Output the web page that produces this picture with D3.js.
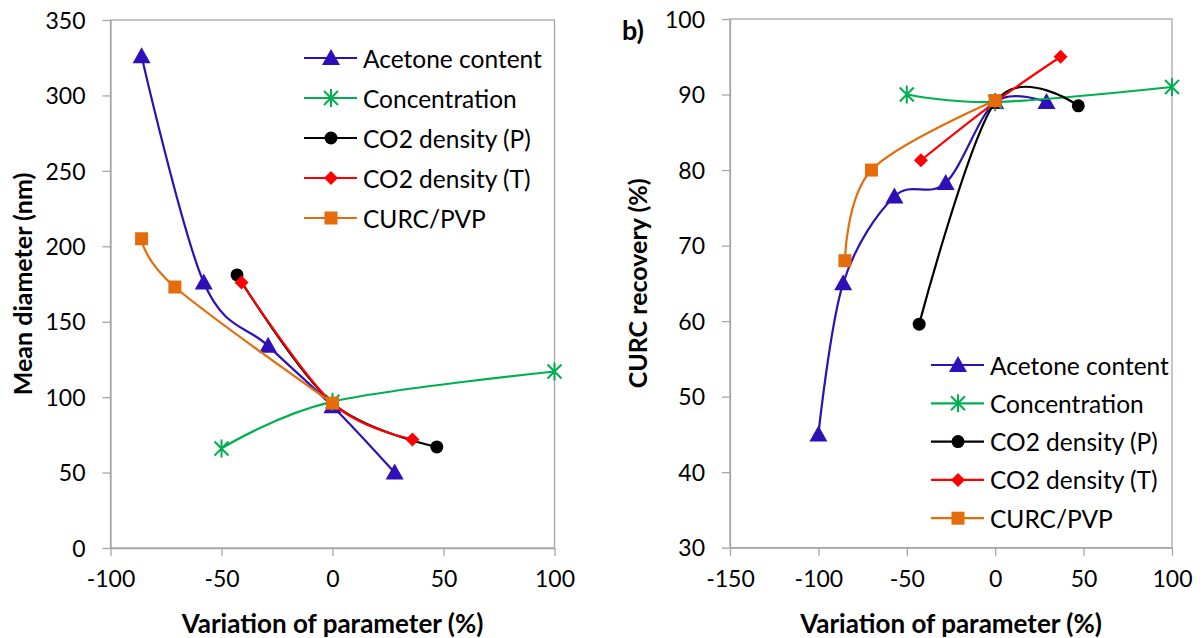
<!DOCTYPE html>
<html>
<head>
<meta charset="utf-8">
<script src="https://cdn.jsdelivr.net/npm/d3@7"></script>
<style>
  body { margin: 0; background: #fff; }
  svg text { font-family: Lato, "Open Sans", sans-serif; fill: #000; }
</style>
</head>
<body>
<svg id="canvas" width="1203" height="638"></svg>
<script>
// Series names (legend order = drawing order)
const seriesNames = ["Acetone content", "Concentration", "CO2 density (P)", "CO2 density (T)", "CURC/PVP"];
const seriesColors = ["#2e10b8", "#00b050", "#000000", "#ff0000", "#e46c0a"];
const seriesMarkers = ["triangle", "star", "circle", "diamond", "square"];

// Panel a) mean diameter (nm)
const acetoneX_a = [-86, -58, -29, 0, 28];
const acetoneY_a = [326, 176, 134, 94, 50];
const concX_a = [-50, 0, 100];
const concY_a = [66, 97, 117];
const co2pX_a = [-43, 0, 47];
const co2pY_a = [181, 96, 67];
const co2tX_a = [-41, 0, 36];
const co2tY_a = [176, 96, 72];
const curcX_a = [-86, -71, 0];
const curcY_a = [205, 173, 96];

// Panel b) CURC recovery (%)
const acetoneX_b = [-100, -86, -57, -28, 0, 29];
const acetoneY_b = [45, 65, 76.5, 78.3, 89, 89];
const concX_b = [-50, 0, 100];
const concY_b = [90, 89, 91];
const co2pX_b = [-43, 0, 47];
const co2pY_b = [59.6, 89, 88.5];
const co2tX_b = [-42, 0, 37];
const co2tY_b = [81.3, 89, 95];
const curcX_b = [-85, -70, 0];
const curcY_b = [68, 80, 89.2];

// Tick values
const xTicks_a = [-100, -50, 0, 50, 100];
const yTicks_a = [0, 50, 100, 150, 200, 250, 300, 350];
const xTicks_b = [-150, -100, -50, 0, 50, 100];
const yTicks_b = [30, 40, 50, 60, 70, 80, 90, 100];

const svg = d3.select("#canvas");

function zip(xs, ys) {
    return xs.map((x, i) => ({ x: x, y: ys[i] }));
}

// Draw one marker at (cx, cy)
function drawMarker(g, tipo, color, cx, cy) {
    const m = g.append("g").attr("transform", `translate(${cx},${cy})`);
    if (tipo === "triangle") {
        m.append("path").attr("d", "M0,-9L9,7L-9,7Z").attr("fill", color);
    } else if (tipo === "star") {
        m.append("path")
            .attr("d", "M-7,-7L7,7M-7,7L7,-7M0,-9L0,9")
            .attr("stroke", color).attr("stroke-width", 2).attr("fill", "none");
    } else if (tipo === "circle") {
        m.append("circle").attr("r", 6.5).attr("fill", color);
    } else if (tipo === "diamond") {
        m.append("path").attr("d", "M0,-7L7,0L0,7L-7,0Z").attr("fill", color);
    } else if (tipo === "square") {
        m.append("rect").attr("x", -6.5).attr("y", -6.5).attr("width", 13).attr("height", 13).attr("fill", color);
    }
}

function drawPanel(p) {
    const x = d3.scaleLinear().domain(p.xDomain).range([p.left, p.right]);
    const y = d3.scaleLinear().domain(p.yDomain).range([p.bottom, p.top]);
    const g = svg.append("g");

    // plot area box
    g.append("rect")
        .attr("x", p.left).attr("y", p.top)
        .attr("width", p.right - p.left).attr("height", p.bottom - p.top)
        .attr("fill", "none").attr("stroke", "#a6a6a6").attr("stroke-width", 1.3);

    // axes (ticks outside), plain hyphen for negatives
    const fmt = d => String(d);
    const ax = g.append("g").attr("transform", `translate(0,${p.bottom})`)
        .call(d3.axisBottom(x).tickValues(p.xTicks).tickFormat(fmt).tickSize(8).tickSizeOuter(0).tickPadding(14));
    const ay = g.append("g").attr("transform", `translate(${p.left},0)`)
        .call(d3.axisLeft(y).tickValues(p.yTicks).tickFormat(fmt).tickSize(8).tickSizeOuter(0).tickPadding(17));
    [ax, ay].forEach(a => {
        a.select(".domain").attr("stroke", "#a6a6a6").attr("stroke-width", 1.3);
        a.selectAll(".tick line").attr("stroke", "#a6a6a6").attr("stroke-width", 1.3);
        a.selectAll(".tick text").attr("font-size", 23).attr("font-family", "Lato").attr("fill", "#222");
    });
    ax.selectAll(".tick text").attr("dy", "0.75em");
    ay.selectAll(".tick text").attr("dy", "0.36em");

    // axis titles
    g.append("text")
        .attr("x", (p.left + p.right) / 2).attr("y", 623)
        .attr("text-anchor", "middle").attr("dominant-baseline", "central")
        .attr("font-size", 26).attr("font-weight", "bold")
        .text("Variation of parameter (%)");
    g.append("text")
        .attr("transform", `translate(${p.yTitleX},${(p.top + p.bottom) / 2}) rotate(-90)`)
        .attr("text-anchor", "middle").attr("dominant-baseline", "central")
        .attr("font-size", 25).attr("font-weight", "bold")
        .text(p.yTitle);

    // series
    const linea = d3.line().x(d => x(d.x)).y(d => y(d.y)).curve(d3.curveCatmullRom.alpha(0));
    p.series.forEach((s, i) => {
        g.append("path")
            .datum(s)
            .attr("d", linea)
            .attr("fill", "none")
            .attr("stroke", seriesColors[i])
            .attr("stroke-width", 2.2);
        s.forEach(d => drawMarker(g, seriesMarkers[i], seriesColors[i], x(d.x), y(d.y)));
    });

    // legend
    seriesNames.forEach((name, i) => {
        const ly = p.legendY + i * p.legendStep;
        g.append("line")
            .attr("x1", p.legendX).attr("x2", p.legendX + 53)
            .attr("y1", ly).attr("y2", ly)
            .attr("stroke", seriesColors[i]).attr("stroke-width", 2.2);
        drawMarker(g, seriesMarkers[i], seriesColors[i], p.legendX + 27, ly);
        g.append("text")
            .attr("x", p.legendX + 59).attr("y", ly)
            .attr("dominant-baseline", "central")
            .attr("font-size", 24.5).attr("fill", "#222")
            .text(name);
    });
}

drawPanel({
    left: 110.5, right: 554.5, top: 20, bottom: 548,
    xDomain: [-100, 100], yDomain: [0, 350],
    xTicks: xTicks_a, yTicks: yTicks_a,
    yTitle: "Mean diameter (nm)", yTitleX: 22,
    legendX: 304, legendY: 58, legendStep: 40,
    series: [
        zip(acetoneX_a, acetoneY_a),
        zip(concX_a, concY_a),
        zip(co2pX_a, co2pY_a),
        zip(co2tX_a, co2tY_a),
        zip(curcX_a, curcY_a)
    ]
});

drawPanel({
    left: 730, right: 1172, top: 19, bottom: 547.7,
    xDomain: [-150, 100], yDomain: [30, 100],
    xTicks: xTicks_b, yTicks: yTicks_b,
    yTitle: "CURC recovery (%)", yTitleX: 637,
    legendX: 931, legendY: 365, legendStep: 38.3,
    series: [
        zip(acetoneX_b, acetoneY_b),
        zip(concX_b, concY_b),
        zip(co2pX_b, co2pY_b),
        zip(co2tX_b, co2tY_b),
        zip(curcX_b, curcY_b)
    ]
});

// panel label
svg.append("text")
    .attr("x", 633).attr("y", 29)
    .attr("text-anchor", "middle").attr("dominant-baseline", "central")
    .attr("font-size", 27).attr("font-weight", "bold")
    .text("b)");
</script>
</body>
</html>
